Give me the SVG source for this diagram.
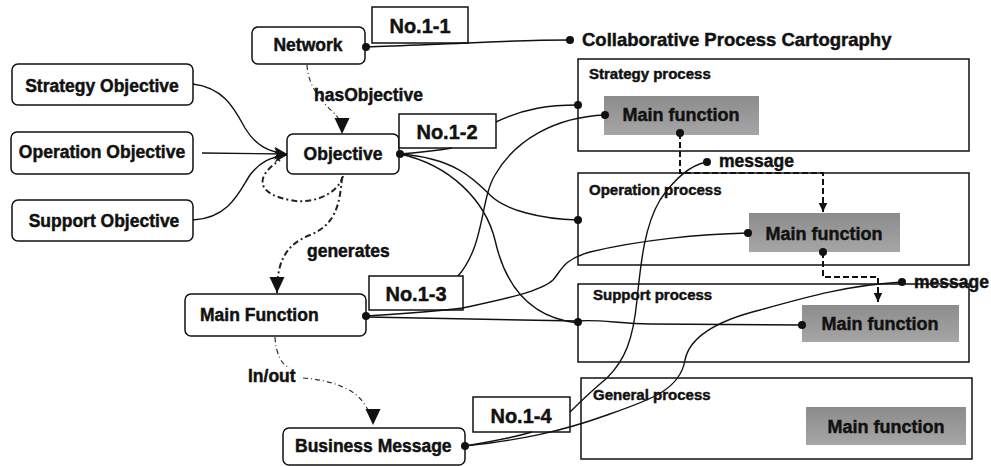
<svg xmlns="http://www.w3.org/2000/svg" width="991" height="466" viewBox="0 0 991 466">
<defs>
<style>
text{font-family:"Liberation Sans",Arial,sans-serif;font-weight:bold;fill:#111;stroke:#111;stroke-width:0.45}
.node{fill:#fff;stroke:#111;stroke-width:1.5}
.tag{fill:#fff;stroke:#111;stroke-width:1.5}
.proc{fill:none;stroke:#111;stroke-width:1.5}
.mf{fill:url(#gray);stroke:none}
.lbl{font-size:17.5px}
.tagt{font-size:20px;text-anchor:middle}
.ptxt{font-size:15px}
.mft{font-size:18px;text-anchor:middle}
.ln{fill:none;stroke:#111;stroke-width:1.4}
.dash{fill:none;stroke:#111;stroke-width:2;stroke-dasharray:6 3}
.dd{fill:none;stroke:#333;stroke-width:1.2;stroke-dasharray:5 3 1 3}
.ddk{fill:none;stroke:#222;stroke-width:2;stroke-dasharray:6 3 2 3}
.dot{fill:#111}
</style>
<linearGradient id="gray" x1="0" y1="0" x2="0" y2="1">
<stop offset="0" stop-color="#8c8c8c"/>
<stop offset="1" stop-color="#a6a6a6"/>
</linearGradient>
<marker id="big" markerUnits="userSpaceOnUse" markerWidth="18" markerHeight="18" viewBox="0 0 18 18" refX="17" refY="9" orient="auto">
<path d="M1,1.5 L17,9 L1,16.5 z" fill="#111"/>
</marker>
<marker id="small" markerUnits="userSpaceOnUse" markerWidth="10" markerHeight="10" viewBox="0 0 10 10" refX="9.5" refY="5" orient="auto">
<path d="M0,0.5 L9.5,5 L0,9.5 z" fill="#111"/>
</marker>
<marker id="barb" markerUnits="userSpaceOnUse" markerWidth="14" markerHeight="12" viewBox="0 0 14 12" refX="13" refY="6" orient="auto">
<path d="M0,0 L13,6 L0,12 L4,6 z" fill="#111"/>
</marker>
</defs>

<g id="strategy-process">
<rect class="proc" x="578" y="59" width="391" height="92"/>
<text class="ptxt" x="589" y="79">Strategy process</text>
<rect class="mf" x="604" y="96" width="155" height="39"/>
<text class="mft" x="681" y="121">Main function</text>
</g>
<g id="operation-process">
<rect class="proc" x="578" y="173" width="391" height="92"/>
<text class="ptxt" x="589" y="195">Operation process</text>
<rect class="mf" x="749" y="213" width="151" height="39"/>
<text class="mft" x="824" y="240">Main function</text>
</g>
<g id="support-process">
<rect class="proc" x="578" y="284" width="391" height="78"/>
<text class="ptxt" x="593" y="300">Support process</text>
<rect class="mf" x="802" y="305" width="157" height="37"/>
<text class="mft" x="880" y="330">Main function</text>
</g>
<g id="general-process">
<rect class="proc" x="581" y="378" width="391" height="81"/>
<text class="ptxt" x="593" y="400">General process</text>
<rect class="mf" x="806" y="407" width="160" height="38"/>
<text class="mft" x="886" y="433">Main function</text>
</g>

<g id="network"><rect class="node" x="252" y="27" width="113" height="37" rx="6"/><text class="lbl" x="308" y="51" text-anchor="middle">Network</text></g>
<g id="strategy-objective"><rect class="node" x="12" y="64" width="181" height="41" rx="6"/><text class="lbl" x="102" y="92" text-anchor="middle">Strategy Objective</text></g>
<g id="operation-objective"><rect class="node" x="11" y="132" width="182" height="42" rx="6"/><text class="lbl" x="102" y="158" text-anchor="middle">Operation Objective</text></g>
<g id="support-objective"><rect class="node" x="12" y="200" width="181" height="41" rx="6"/><text class="lbl" x="104" y="227" text-anchor="middle">Support Objective</text></g>
<g id="objective"><rect class="node" x="287" y="134" width="112" height="40" rx="6"/><text class="lbl" x="343" y="160" text-anchor="middle">Objective</text></g>
<g id="main-function"><rect class="node" x="185" y="294" width="181" height="42" rx="6"/><text class="lbl" x="200" y="321">Main Function</text></g>
<g id="business-message"><rect class="node" x="283" y="428" width="182" height="37" rx="6"/><text class="lbl" x="295" y="452">Business Message</text></g>
<g id="no-1-1"><rect class="tag" x="372" y="7" width="96" height="36"/><text class="tagt" x="420" y="33">No.1-1</text></g>
<g id="no-1-2"><rect class="tag" x="399" y="114" width="97" height="34"/><text class="tagt" x="447" y="139">No.1-2</text></g>
<g id="no-1-3"><rect class="tag" x="369" y="276" width="94" height="34"/><text class="tagt" x="416" y="301">No.1-3</text></g>
<g id="no-1-4"><rect class="tag" x="473" y="397" width="97" height="35"/><text class="tagt" x="521" y="423">No.1-4</text></g>

<g id="connectors">
<path class="ln" d="M366,47 C400,46 440,44 468,43 C510,41 540,40 570,40"/>
<path class="ln" d="M400,154 C425,152 440,150 452,148 M496,122 C525,108 550,105 578,105"/>
<path class="ln" d="M400,154 C455,158 475,180 490,195 C505,210 540,219 578,220"/>
<path class="ln" d="M400,154 C450,165 485,200 495,240 C505,285 530,318 578,323"/>
<path class="ln" d="M458,276 C485,245 480,200 495,175 C515,140 555,117 605,115"/>
<path class="ln" d="M366,316 C400,314 440,311 463,308 C500,300 540,292 553,280 C562,270 562,260 590,252 C640,240 700,234 748,233"/>
<path class="ln" d="M366,317 L578,321 C600,319 620,324 650,324 L802,325"/>
<path class="ln" d="M465,446 C490,442 515,437 532,432 M570,412 C580,402 595,388 607,378 C625,360 633,340 637,300 C641,260 645,225 660,200 C675,178 690,165 707,162"/>
<path class="ln" d="M465,446 C520,440 560,432 607,415 C650,400 680,390 685,360 C690,335 720,320 760,310 C810,296 850,285 902,282"/>
<path class="dash" d="M680,133 L680,173 L823,173 L823,212" marker-end="url(#small)"/>
<path class="dash" d="M823,252 L823,277 L878,277 L878,302" marker-end="url(#small)"/>
<path class="ln" d="M193,84 C225,88 235,110 245,128 C255,145 268,152 287,154" marker-end="url(#barb)"/>
<path class="ln" d="M202,153 L287,154" marker-end="url(#barb)"/>
<path class="ln" d="M193,220 C230,218 240,190 250,175 C260,162 270,157 287,155" marker-end="url(#barb)"/>
<path class="dd" d="M307,65 C308,85 320,100 333,112 C340,119 342,124 342,134" marker-end="url(#big)"/>
<path class="ddk" d="M343,176 C338,195 310,205 290,200 C262,195 250,180 280,160"/>
<path class="ddk" d="M342,177 C340,205 335,225 310,235 C285,245 277,262 277,293" marker-end="url(#big)"/>
<path class="dd" d="M275,337 C276,355 282,365 290,368 M303,378 C330,380 355,388 365,405 C370,413 373,418 373,425" marker-end="url(#big)"/>
<circle class="dot" cx="366" cy="47" r="4"/>
<circle class="dot" cx="570" cy="40" r="4"/>
<circle class="dot" cx="400" cy="154" r="4"/>
<circle class="dot" cx="578" cy="105" r="4"/>
<circle class="dot" cx="578" cy="220" r="4"/>
<circle class="dot" cx="578" cy="322" r="4"/>
<circle class="dot" cx="605" cy="115" r="4"/>
<circle class="dot" cx="366" cy="316" r="4"/>
<circle class="dot" cx="748" cy="233" r="4"/>
<circle class="dot" cx="802" cy="325" r="4"/>
<circle class="dot" cx="465" cy="446" r="4"/>
<circle class="dot" cx="707" cy="162" r="4"/>
<circle class="dot" cx="902" cy="282" r="4"/>
<circle class="dot" cx="680" cy="133" r="4"/>
<circle class="dot" cx="823" cy="252" r="4"/>
</g>

<g id="labels">
<text class="lbl" x="582" y="46" style="font-size:18.5px">Collaborative Process Cartography</text>
<text class="lbl" x="314" y="101">hasObjective</text>
<text class="lbl" x="307" y="257">generates</text>
<text class="lbl" x="248" y="382">In/out</text>
<text class="lbl" x="719" y="167">message</text>
<text class="lbl" x="914" y="288">message</text>
</g>
</svg>
